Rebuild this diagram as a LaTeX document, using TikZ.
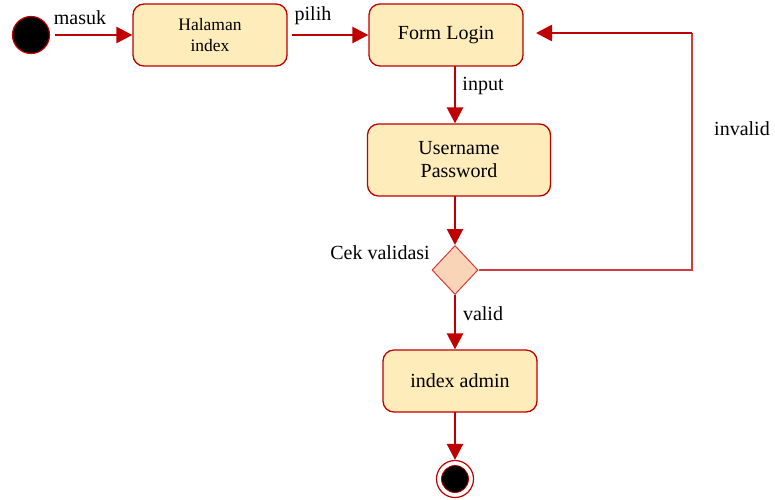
\documentclass[tikz,border=0pt]{standalone}
\usepackage{fontspec}
\setmainfont{Liberation Serif}
\usetikzlibrary{arrows.meta,shapes.geometric}
\definecolor{boxfill}{RGB}{255,236,187}
\definecolor{edge}{RGB}{192,0,0}
\definecolor{difill}{RGB}{250,212,182}
\definecolor{thinred}{RGB}{210,60,60}
\tikzset{
  actbox/.style={draw=edge,line width=1.3pt,fill=boxfill,rounded corners=11pt,align=center,inner sep=0pt,font=\fontsize{20}{23}\selectfont},
  arr/.style={draw=edge,line width=2.6pt,-{Triangle[length=16pt,width=16pt]}},
  lbl/.style={font=\fontsize{20}{23}\selectfont,inner sep=0pt},
}
\begin{document}
\begin{tikzpicture}[x=1pt,y=-1pt]
\useasboundingbox (0,0) rectangle (775,499);
\node[circle,fill=black,draw=edge,line width=1.2pt,minimum size=37pt,inner sep=0pt] (start) at (31,35) {};
\node[actbox,minimum width=154pt,minimum height=62pt,font=\fontsize{17.5}{21}\selectfont] (halaman) at (210,35) {Halaman\\index};
\node[actbox,minimum width=154pt,minimum height=62pt] (form) at (446,35) {Form Login};
\node[actbox,minimum width=183pt,minimum height=72pt] (userpass) at (459,160) {Username\\Password};
\node[diamond,draw=thinred,line width=1pt,fill=difill,minimum width=46pt,minimum height=49pt,inner sep=0pt] (dec) at (455,270) {};
\node[actbox,minimum width=154pt,minimum height=62pt] (admin) at (460,381) {index admin};
\node[circle,draw=edge,line width=1.2pt,fill=white,minimum size=37pt,inner sep=0pt] (endo) at (455,479) {};
\node[circle,fill=black,draw=edge,line width=0.8pt,minimum size=27pt,inner sep=0pt] (endi) at (455,479) {};
\coordinate (s1) at (55,35);
\coordinate (h1) at (292,35);
\coordinate (f1) at (455,66);
\coordinate (u1) at (455,196);
\coordinate (d1) at (455,295);
\coordinate (a1) at (455,412);
\coordinate (c1) at (692,270);
\coordinate (c2) at (692,33);
\coordinate (fe) at (536,33);
\draw[arr] (s1) -- (halaman.west);
\draw[arr] (h1) -- (form.west);
\draw[arr] (f1) -- (userpass.north -| f1);
\draw[arr] (u1) -- (dec.north);
\draw[arr] (d1) -- (admin.north -| d1);
\draw[arr] (a1) -- (endo.north);
\draw[draw=thinred,line width=1.3pt] (dec.east) -- (c1) -- (c2);
\draw[arr] (c2) -- (fe);
\node[lbl] (lmasuk) at (80,18) {masuk};
\node[lbl] (lpilih) at (313,16) {pilih};
\node[lbl] (linput) at (483,86) {input};
\node[lbl] (lcek) at (380,253) {Cek validasi};
\node[lbl] (lvalid) at (483,314) {valid};
\node[lbl] (linvalid) at (742,129) {invalid};
\end{tikzpicture}
\end{document}
